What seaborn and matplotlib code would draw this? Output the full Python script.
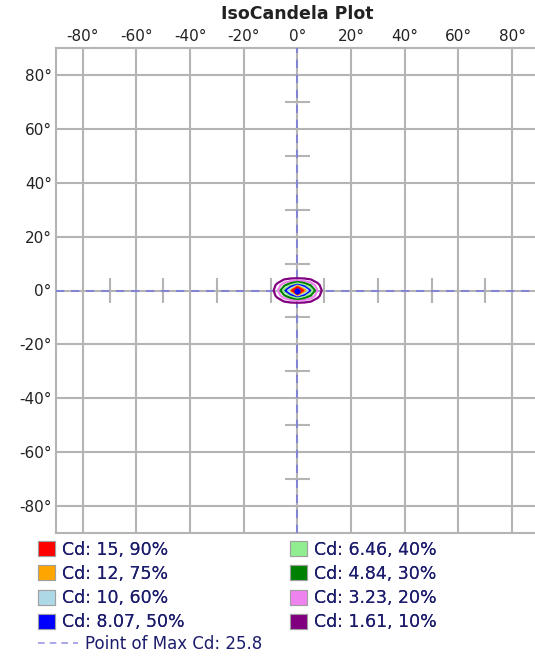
import numpy as np
import seaborn as sns
import matplotlib.pyplot as plt
from matplotlib.patches import Patch
from matplotlib.lines import Line2D

# Candela table (horizontal angle across, vertical angle down)
h_angles = [-12.5, -10, -7.5, -5, -2.5, 0, 2.5, 5, 7.5, 10, 12.5]
v_angles = [-6, -4, -2, 0, 2, 4, 6]
candela = [
    [0, 0, 0, 0, 0, 0, 0, 0, 0, 0, 0],
    [0, 0, 0.7, 1.7, 2.1, 2.2, 2.1, 1.7, 0.7, 0, 0],
    [0, 0.3, 2.1, 4.4, 6.4, 8.5, 6.6, 4.6, 2.2, 0.3, 0],
    [0, 0.5, 3.0, 7.0, 12.0, 25.8, 13.0, 7.4, 3.2, 0.6, 0],
    [0, 0.3, 2.1, 4.4, 6.4, 8.5, 6.6, 4.6, 2.2, 0.3, 0],
    [0, 0, 0.7, 1.7, 2.1, 2.2, 2.1, 1.7, 0.7, 0, 0],
    [0, 0, 0, 0, 0, 0, 0, 0, 0, 0, 0],
]

# iso levels, low to high
levels = [1.61, 3.23, 4.84, 6.46, 8.07, 10, 12, 15]
percents = [10, 20, 30, 40, 50, 60, 75, 90]
level_colors = ['#800080', '#ee82ee', '#008000', '#90ee90',
                '#0000ff', '#add8e6', '#ffa500', '#ff0000']

max_cd = 25.8
max_point = (0, 0)

grid_ticks = [-80, -60, -40, -20, 0, 20, 40, 60, 80]
cross_ticks = [-70, -50, -30, -10, 10, 30, 50, 70]

sns.set_theme(style="white")
plt.rcParams['font.family'] = ['DejaVu Sans']

grid_col = '#b4b4b4'
text_col = '#1c1c6c'

fig = plt.figure(figsize=(5.35, 6.6), dpi=100)
ax = fig.add_axes([56 / 535, (660 - 533) / 660, (539 - 56) / 535, (533 - 48) / 660])

ax.set_xlim(-90, 90)
ax.set_ylim(-90, 90)
ax.set_xticks(grid_ticks)
ax.set_yticks(grid_ticks)
ax.set_xticklabels([f'{t}°' for t in grid_ticks])
ax.set_yticklabels([f'{t}°' for t in grid_ticks])
ax.xaxis.tick_top()
ax.tick_params(length=0, pad=3, labelsize=11, labelcolor='#222222')
ax.grid(True, color=grid_col, lw=1.5)
for s in ax.spines.values():
    s.set_color(grid_col)
    s.set_linewidth(1.5)

# small marks along the crosshair
ax.vlines(cross_ticks, -4.5, 4.5, color=grid_col, lw=1.5, zorder=3)
ax.hlines(cross_ticks, -4.5, 4.5, color=grid_col, lw=1.5, zorder=3)

# point of max candela crosshair
ax.axhline(max_point[1], color='#7b7bdb', lw=1.2, ls=(0, (5, 4)), zorder=4)
ax.axvline(max_point[0], color='#7b7bdb', lw=1.2, ls=(0, (5, 4)), zorder=4)

X, Y = np.meshgrid(h_angles, v_angles)
ax.contour(X, Y, np.array(candela), levels=levels, colors=level_colors,
           linewidths=1.6, zorder=5)
ax.scatter([max_point[0]], [max_point[1]], s=12, color='#0000ff', zorder=6)

ax.set_title('IsoCandela Plot', fontsize=12.5, fontweight='bold',
             color='#222222', pad=21)

# legend: strongest first, two columns
order = [7, 6, 5, 4, 3, 2, 1, 0]
handles = [Patch(facecolor=level_colors[i], edgecolor='#a0a0a0', lw=0.8) for i in order]
labels = [f'Cd: {levels[i]:g}, {percents[i]}%' for i in order]
leg = fig.legend(handles, labels, ncol=2, loc='upper left',
                 bbox_to_anchor=(0.055, 1 - 532 / 660), frameon=False,
                 fontsize=12.5, handlelength=0.95, handleheight=0.95,
                 handletextpad=0.4, labelspacing=0.36, columnspacing=6.1,
                 borderpad=0, labelcolor=text_col)
fig.add_artist(leg)
fig.legend([Line2D([0], [0], color='#9a9ae6', lw=1.2, ls=(0, (4, 3)))],
           [f'Point of Max Cd: {max_cd}'], loc='upper left',
           bbox_to_anchor=(0.055, 1 - 627 / 660), frameon=False,
           fontsize=12, handlelength=2.4, handletextpad=0.45, borderpad=0,
           labelcolor=text_col)

fig.savefig('out.png', dpi=100)
